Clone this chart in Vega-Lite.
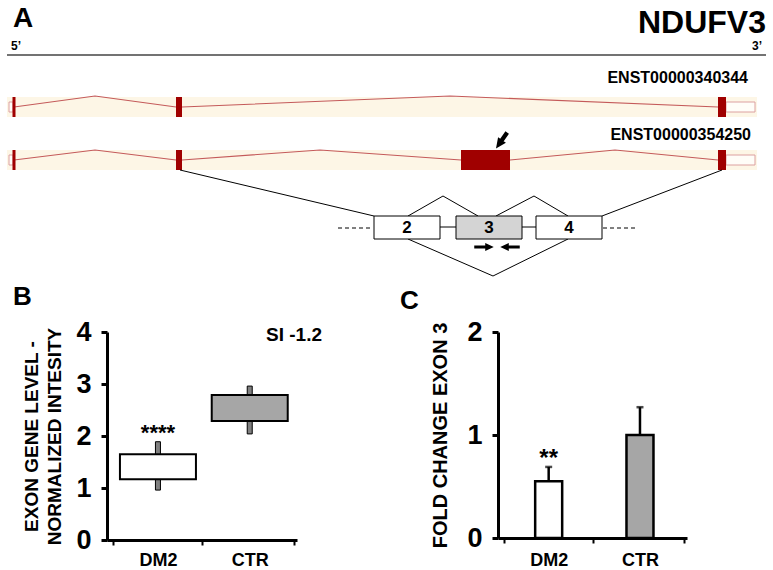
{
  "$schema": "https://vega.github.io/schema/vega-lite/v6.json",
  "padding": 0,
  "background": "white",
  "bounds": "flush",
  "spacing": 32,
  "config": {
    "view": {"stroke": null},
    "font": "Liberation Sans",
    "axis": {"domainColor": "black", "domainWidth": 3, "tickColor": "black", "labelColor": "black", "labelFont": "Liberation Sans", "labelFontWeight": "bold", "titleColor": "black", "titleFont": "Liberation Sans", "titleFontWeight": "bold", "grid": false},
    "axisY": {"labelFontSize": 27, "tickSize": 6, "tickWidth": 3, "labelPadding": 10, "format": "d"},
    "axisX": {"labelFontSize": 18, "tickSize": 5, "tickWidth": 2, "labelPadding": 6, "labelAngle": 0, "tickBand": "extent"}
  },
  "datasets": {
    "bands": [{"x": 7, "x2": 757, "y": 97, "y2": 117}, {"x": 7, "x2": 757, "y": 150, "y2": 170}],
    "utr": [
      {"x": 9, "x2": 13, "y": 102, "y2": 112}, {"x": 726, "x2": 755, "y": 102, "y2": 112},
      {"x": 9, "x2": 13, "y": 155, "y2": 165}, {"x": 726, "x2": 755, "y": 155, "y2": 165}
    ],
    "introns": [
      {"seg": "t1a", "x": 14, "y": 107}, {"seg": "t1a", "x": 95, "y": 96}, {"seg": "t1a", "x": 176, "y": 107},
      {"seg": "t1b", "x": 182, "y": 107}, {"seg": "t1b", "x": 450, "y": 96}, {"seg": "t1b", "x": 718, "y": 107},
      {"seg": "t2a", "x": 14, "y": 160}, {"seg": "t2a", "x": 95, "y": 150}, {"seg": "t2a", "x": 176, "y": 160},
      {"seg": "t2b", "x": 182, "y": 160}, {"seg": "t2b", "x": 320, "y": 150}, {"seg": "t2b", "x": 461, "y": 160},
      {"seg": "t2c", "x": 510, "y": 160}, {"seg": "t2c", "x": 615, "y": 150}, {"seg": "t2c", "x": 718, "y": 160}
    ],
    "exons": [
      {"x": 12.5, "x2": 15.5, "y": 97, "y2": 117}, {"x": 176, "x2": 182, "y": 97, "y2": 117}, {"x": 718, "x2": 726, "y": 97, "y2": 117},
      {"x": 12.5, "x2": 15.5, "y": 150, "y2": 170}, {"x": 176, "x2": 182, "y": 150, "y2": 170}, {"x": 461, "x2": 510, "y": 150, "y2": 170}, {"x": 718, "x2": 726, "y": 150, "y2": 170}
    ],
    "links": [
      {"seg": "L1", "x": 180, "y": 170}, {"seg": "L1", "x": 374, "y": 216},
      {"seg": "L2", "x": 602, "y": 216}, {"seg": "L2", "x": 722, "y": 170},
      {"seg": "C1", "x": 440, "y": 227}, {"seg": "C1", "x": 456, "y": 227},
      {"seg": "C2", "x": 522, "y": 227}, {"seg": "C2", "x": 536, "y": 227},
      {"seg": "A1", "x": 408, "y": 216}, {"seg": "A1", "x": 443, "y": 196}, {"seg": "A1", "x": 478, "y": 216},
      {"seg": "A2", "x": 496, "y": 216}, {"seg": "A2", "x": 534, "y": 196}, {"seg": "A2", "x": 568, "y": 216},
      {"seg": "A3", "x": 408, "y": 239}, {"seg": "A3", "x": 493, "y": 276}, {"seg": "A3", "x": 568, "y": 239}
    ],
    "topline": [{"x": 7, "y": 55}, {"x": 766, "y": 55}],
    "dashes": [
      {"seg": "D1", "x": 338, "y": 228}, {"seg": "D1", "x": 373, "y": 228},
      {"seg": "D2", "x": 603, "y": 228}, {"seg": "D2", "x": 638, "y": 228}
    ],
    "boxes": [
      {"x": 374, "x2": 440, "y": 216, "y2": 239, "kind": "constitutive"},
      {"x": 456, "x2": 522, "y": 216, "y2": 239, "kind": "alternative"},
      {"x": 536, "x2": 602, "y": 216, "y2": 239, "kind": "constitutive"}
    ],
    "boxLabels": [{"x": 407, "y": 228, "label": "2"}, {"x": 489, "y": 228, "label": "3"}, {"x": 569, "y": 228, "label": "4"}],
    "primers": [{"x": 484, "y": 247, "dir": "forward"}, {"x": 510, "y": 247, "dir": "reverse"}],
    "marker": [{"x": 502, "y": 140}],
    "panelA": [{"x": 13, "y": 27, "text": "A"}],
    "gene": [{"x": 766, "y": 33, "text": "NDUFV3"}],
    "ends": [{"x": 16, "y": 50, "text": "5’"}, {"x": 757, "y": 50, "text": "3’"}],
    "transcripts": [{"x": 748, "y": 83, "text": "ENST00000340344"}, {"x": 751, "y": 140, "text": "ENST00000354250"}],
    "expr": [
      {"group": "DM2", "q1": 1.17, "q3": 1.65, "lo": 0.96, "hi": 1.89, "sig": "****"},
      {"group": "CTR", "q1": 2.29, "q3": 2.79, "lo": 2.04, "hi": 2.96, "sig": ""}
    ],
    "qpcr": [
      {"group": "DM2", "mean": 0.55, "upper": 0.69, "sig": "**"},
      {"group": "CTR", "mean": 1.0, "upper": 1.27, "sig": ""}
    ]
  },
  "vconcat": [
    {
      "width": 773,
      "height": 300,
      "encoding": {
        "x": {"field": "x", "type": "quantitative", "scale": {"domain": [0, 773]}, "axis": null},
        "y": {"field": "y", "type": "quantitative", "scale": {"domain": [0, 300], "reverse": true}, "axis": null}
      },
      "layer": [
        {"data": {"name": "bands"}, "mark": {"type": "rect", "color": "#fdf6e6"}, "encoding": {"x2": {"field": "x2"}, "y2": {"field": "y2"}}},
        {"data": {"name": "utr"}, "mark": {"type": "rect", "fill": "#fffdf8", "stroke": "#dca0a0", "strokeWidth": 1}, "encoding": {"x2": {"field": "x2"}, "y2": {"field": "y2"}}},
        {"data": {"name": "introns"}, "mark": {"type": "line", "color": "#c45a5a", "strokeWidth": 1.1}, "encoding": {"detail": {"field": "seg"}}},
        {"data": {"name": "exons"}, "mark": {"type": "rect", "color": "#a00000"}, "encoding": {"x2": {"field": "x2"}, "y2": {"field": "y2"}}},
        {"data": {"name": "topline"}, "mark": {"type": "line", "color": "#444444", "strokeWidth": 1.5}, "encoding": {}},
        {"data": {"name": "links"}, "mark": {"type": "line", "color": "black", "strokeWidth": 1}, "encoding": {"detail": {"field": "seg"}}},
        {"data": {"name": "dashes"}, "mark": {"type": "line", "color": "black", "strokeWidth": 1, "strokeDash": [4, 3]}, "encoding": {"detail": {"field": "seg"}}},
        {"data": {"name": "boxes"}, "mark": {"type": "rect", "stroke": "black", "strokeWidth": 1}, "encoding": {"x2": {"field": "x2"}, "y2": {"field": "y2"}, "fill": {"field": "kind", "type": "nominal", "scale": {"domain": ["constitutive", "alternative"], "range": ["white", "#d4d4d4"]}, "legend": null}}},
        {"data": {"name": "boxLabels"}, "mark": {"type": "text", "fontSize": 17, "fontWeight": "bold", "color": "black", "align": "center", "baseline": "middle"}, "encoding": {"text": {"field": "label"}}},
        {"data": {"name": "primers"}, "mark": {"type": "point", "shape": "arrow", "size": 380, "filled": true, "color": "black", "opacity": 1}, "encoding": {"angle": {"field": "dir", "type": "nominal", "scale": {"domain": ["forward", "reverse"], "range": [90, 270]}, "legend": null}}},
        {"data": {"name": "marker"}, "mark": {"type": "point", "shape": "arrow", "size": 260, "filled": true, "color": "black", "stroke": "black", "strokeWidth": 2, "angle": 215, "opacity": 1}},
        {"data": {"name": "panelA"}, "mark": {"type": "text", "fontSize": 28, "fontWeight": "bold", "color": "black", "align": "left", "baseline": "alphabetic"}, "encoding": {"text": {"field": "text"}}},
        {"data": {"name": "gene"}, "mark": {"type": "text", "fontSize": 32, "fontWeight": "bold", "color": "black", "align": "right", "baseline": "alphabetic"}, "encoding": {"text": {"field": "text"}}},
        {"data": {"name": "ends"}, "mark": {"type": "text", "fontSize": 12, "fontWeight": "bold", "color": "black", "align": "center", "baseline": "alphabetic"}, "encoding": {"text": {"field": "text"}}},
        {"data": {"name": "transcripts"}, "mark": {"type": "text", "fontSize": 16, "fontWeight": "bold", "color": "black", "align": "right", "baseline": "alphabetic"}, "encoding": {"text": {"field": "text"}}}
      ]
    },
    {
      "bounds": "flush",
      "spacing": 0,
      "hconcat": [
        {
          "width": 107, "height": 208,
          "title": {"text": "B", "anchor": "start", "frame": "group", "dx": 13, "offset": 1, "baseline": "alphabetic", "fontSize": 26, "fontWeight": "bold", "color": "black"},
          "data": {"values": []},
          "mark": "point",
          "encoding": {}
        },
        {
          "width": 190, "height": 208,
          "title": {"text": "SI -1.2", "anchor": "end", "frame": "group", "dx": 25, "offset": -42, "baseline": "alphabetic", "fontSize": 19, "fontWeight": "bold", "color": "black"},
          "data": {"name": "expr"},
          "encoding": {
            "x": {"field": "group", "type": "nominal", "sort": ["DM2", "CTR"], "scale": {"paddingInner": 0.03, "paddingOuter": 0.05, "align": 0.7}, "axis": {"title": null}}
          },
          "layer": [
            {"mark": {"type": "bar", "width": 5, "fill": "#808080", "stroke": "black", "strokeWidth": 1},
             "encoding": {"y": {"field": "lo", "type": "quantitative", "scale": {"domain": [0, 4], "nice": false}, "axis": {"values": [0, 1, 2, 3, 4], "title": ["EXON GENE LEVEL -", "NORMALIZED INTESITY"], "titleFontSize": 19, "titlePadding": 11, "titleLineHeight": 23}}, "y2": {"field": "hi"}}},
            {"mark": {"type": "bar", "width": 76, "stroke": "black", "strokeWidth": 2},
             "encoding": {"y": {"field": "q1", "type": "quantitative"}, "y2": {"field": "q3"}, "color": {"field": "group", "type": "nominal", "scale": {"domain": ["DM2", "CTR"], "range": ["white", "#a6a6a6"]}, "legend": null}}},
            {"mark": {"type": "text", "fontSize": 22, "fontWeight": "bold", "color": "black", "baseline": "alphabetic", "dy": -2},
             "encoding": {"y": {"field": "hi", "type": "quantitative"}, "text": {"field": "sig"}}}
          ]
        },
        {
          "width": 201, "height": 208,
          "title": {"text": "C", "anchor": "start", "frame": "group", "dx": 103, "offset": -3, "baseline": "alphabetic", "fontSize": 26, "fontWeight": "bold", "color": "black"},
          "data": {"values": []},
          "mark": "point",
          "encoding": {}
        },
        {
          "width": 189, "height": 206,
          "data": {"name": "qpcr"},
          "encoding": {
            "x": {"field": "group", "type": "nominal", "sort": ["DM2", "CTR"], "scale": {"paddingInner": 0.03, "paddingOuter": 0.05, "align": 0.7}, "axis": {"title": null, "labelPadding": 8}}
          },
          "layer": [
            {"mark": {"type": "bar", "width": 27, "stroke": "black", "strokeWidth": 2.5},
             "encoding": {"y": {"field": "mean", "type": "quantitative", "scale": {"domain": [0, 2], "nice": false}, "axis": {"values": [0, 1, 2], "title": "FOLD CHANGE EXON 3", "titleFontSize": 20, "titlePadding": 16}},
                          "color": {"field": "group", "type": "nominal", "scale": {"domain": ["DM2", "CTR"], "range": ["white", "#7f7f7f"]}, "legend": null}}},
            {"mark": {"type": "rule", "strokeWidth": 2.5, "color": "black"},
             "encoding": {"y": {"field": "mean", "type": "quantitative"}, "y2": {"field": "upper"}}},
            {"mark": {"type": "tick", "thickness": 2.5, "size": 7, "color": "black", "orient": "horizontal"},
             "encoding": {"y": {"field": "upper", "type": "quantitative"}}},
            {"mark": {"type": "text", "fontSize": 24, "fontWeight": "bold", "color": "black", "baseline": "alphabetic", "dy": -1},
             "encoding": {"y": {"field": "upper", "type": "quantitative"}, "text": {"field": "sig"}}}
          ]
        }
      ]
    }
  ]
}
